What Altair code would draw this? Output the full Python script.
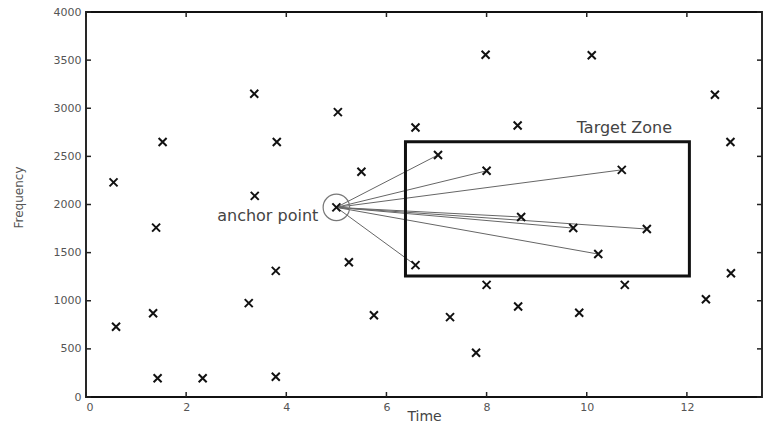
import altair as alt
import pandas as pd

# ---- data ----
time = [0.55, 0.60, 1.53, 1.40, 1.34, 1.43, 2.33, 3.36, 3.37, 3.81,
        3.79, 3.25, 3.79, 5.03, 5.50, 5.00, 5.25, 5.75, 6.58, 6.58,
        7.03, 7.27, 7.79, 7.98, 8.00, 8.00, 8.62, 8.69, 8.63, 9.73,
        9.85, 10.10, 10.70, 10.23, 10.76, 11.20, 12.38, 12.56, 12.87, 12.88]
freq = [2230, 730, 2650, 1760, 870, 195, 195, 3150, 2090, 2650,
        1310, 975, 210, 2960, 2340, 1970, 1400, 850, 2800, 1370,
        2515, 830, 460, 3555, 2350, 1165, 2820, 1870, 940, 1755,
        875, 3550, 2360, 1485, 1165, 1745, 1015, 3140, 2650, 1285]

anchor_t = [5.0]
anchor_f = [1970]
target_t = [7.03, 8.00, 10.70, 8.69, 9.73, 11.20, 10.23, 6.58]
target_f = [2515, 2350, 2360, 1870, 1755, 1745, 1485, 1370]

zone_t = [6.38, 12.05]
zone_f = [1257, 2653]

x_ticks = [0, 2, 4, 6, 8, 10, 12]
y_ticks = [0, 500, 1000, 1500, 2000, 2500, 3000, 3500, 4000]

anchor_label = "anchor point"
anchor_label_t = [4.64]
anchor_label_f = [1880]
zone_label = "Target Zone"
zone_label_t = [9.80]
zone_label_f = [2800]

W, H = 676, 385
FONT = "DejaVu Sans"

xs = alt.Scale(domain=[0, 13.5], nice=False, zero=False)
ys = alt.Scale(domain=[0, 4000], nice=False)

X_AXIS = alt.Axis(values=x_ticks, format="d", tickSize=0, domain=False, grid=False, labelPadding=4,
                  labelFont=FONT, labelFontSize=11, labelColor="#555",
                  titleFont=FONT, titleFontSize=14, titleFontWeight="normal", titleColor="#444",
                  titleY=19, titleBaseline="middle")
Y_AXIS = alt.Axis(values=y_ticks, format="d", tickSize=0, domain=False, grid=False, labelPadding=5,
                  labelFont=FONT, labelFontSize=11, labelColor="#555",
                  titleFont=FONT, titleFontSize=12, titleFontWeight="normal", titleColor="#555",
                  titleX=-68, titleY=185, titleAngle=-90, titleBaseline="middle")


def X(field):
    return alt.X(field, scale=xs, title="Time", axis=X_AXIS)


def Y(field):
    return alt.Y(field, scale=ys, title="Frequency", axis=Y_AXIS)


pts = pd.DataFrame({"t": time, "f": freq})
lines = pd.DataFrame({"t": anchor_t * len(target_t), "f": anchor_f * len(target_t),
                      "t2": target_t, "f2": target_f})
zone = pd.DataFrame({"t": [zone_t[0]], "t2": [zone_t[1]], "f": [zone_f[0]], "f2": [zone_f[1]]})
anc = pd.DataFrame({"t": anchor_t, "f": anchor_f})
lab1 = pd.DataFrame({"text": [anchor_label], "t": anchor_label_t, "f": anchor_label_f})
lab2 = pd.DataFrame({"text": [zone_label], "t": zone_label_t, "f": zone_label_f})
xt = pd.DataFrame({"t": x_ticks})
yt = pd.DataFrame({"f": y_ticks})

xcross = "M-1,-1L1,1M1,-1L-1,1"

points = alt.Chart(pts).mark_point(shape=xcross, size=64, color="#111", strokeWidth=2, opacity=1).encode(
    x=X("t:Q"), y=Y("f:Q"))

rays = alt.Chart(lines).mark_rule(color="#666", strokeWidth=1).encode(
    x=X("t:Q"), y=Y("f:Q"), x2="t2:Q", y2="f2:Q")

box = alt.Chart(zone).mark_rect(fillOpacity=0, stroke="#111", strokeWidth=3).encode(
    x=X("t:Q"), x2="t2:Q", y=Y("f:Q"), y2="f2:Q")

circle = alt.Chart(anc).mark_point(shape="circle", size=700, color="#777", strokeWidth=1.2, filled=False, opacity=1).encode(
    x=X("t:Q"), y=Y("f:Q"))

text1 = alt.Chart(lab1).mark_text(font=FONT, fontSize=16, color="#444", baseline="middle", align="right").encode(
    x=X("t:Q"), y=Y("f:Q"), text="text:N")
text2 = alt.Chart(lab2).mark_text(font=FONT, fontSize=16, color="#444", baseline="middle", align="left").encode(
    x=X("t:Q"), y=Y("f:Q"), text="text:N")

tick_style = dict(color="#222", strokeWidth=1.5)
left_ticks = alt.Chart(yt).mark_rule(**tick_style).encode(
    y=Y("f:Q"), x=alt.value(0), x2=alt.value(5))
right_ticks = alt.Chart(yt).mark_rule(**tick_style).encode(
    y=Y("f:Q"), x=alt.value(W), x2=alt.value(W - 5))
bottom_ticks = alt.Chart(xt).mark_rule(**tick_style).encode(
    x=X("t:Q"), y=alt.value(H), y2=alt.value(H - 5))
top_ticks = alt.Chart(xt).mark_rule(**tick_style).encode(
    x=X("t:Q"), y=alt.value(0), y2=alt.value(5))

chart = alt.layer(
    rays, box, circle, left_ticks, right_ticks, bottom_ticks, top_ticks, text1, text2, points
).properties(
    width=W, height=H,
    autosize=alt.AutoSizeParams(type="none"),
    padding={"left": 86, "top": 12, "right": 5, "bottom": 27},
    background="white",
).configure_view(stroke="#111", strokeWidth=1.8)

chart.save("out.html", embed_options={"renderer": "svg", "actions": False})
